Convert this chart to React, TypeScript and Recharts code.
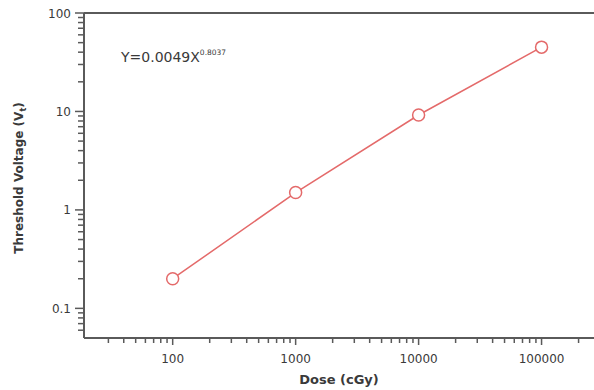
import { LineChart, Line, XAxis, YAxis, ReferenceLine } from 'recharts';

// dose (cGy) vs threshold voltage (V)
const doses = [100, 1000, 10000, 100000];
const voltages = [0.2, 1.5, 9.2, 45];

const xMajorTicks = [100, 1000, 10000, 100000];
const xMinorTicks = [
  30, 40, 50, 60, 70, 80, 90,
  200, 300, 400, 500, 600, 700, 800, 900,
  2000, 3000, 4000, 5000, 6000, 7000, 8000, 9000,
  20000, 30000, 40000, 50000, 60000, 70000, 80000, 90000,
  200000,
];
const yMajorTicks = [0.1, 1, 10, 100];
const yMinorTicks = [
  0.06, 0.07, 0.08, 0.09,
  0.2, 0.3, 0.4, 0.5, 0.6, 0.7, 0.8, 0.9,
  2, 3, 4, 5, 6, 7, 8, 9,
  20, 30, 40, 50, 60, 70, 80, 90,
];

const equation = 'Y=0.0049X';
const exponent = '0.8037';

const data = doses.map((dose, i) => ({ dose, v: voltages[i] }));

const AXIS = '#5a5a5a';
const TEXT = '#3a3a3a';
const RED = '#e46a6a';
const FONT = '"DejaVu Sans", Arial, sans-serif';

const XTick = (props: any) => {
  const { x, y, payload } = props;
  const major = xMajorTicks.includes(payload.value);
  return (
    <g>
      <line x1={x} x2={x} y1={y} y2={y + (major ? 7 : 5)} stroke={AXIS} strokeWidth={1.5} />
      {major && (
        <text x={x} y={y + 25} textAnchor="middle" fontSize={12} fill={TEXT} fontFamily={FONT}>
          {payload.value}
        </text>
      )}
    </g>
  );
};

const YTick = (props: any) => {
  const { x, y, payload } = props;
  const major = yMajorTicks.includes(payload.value);
  return (
    <g>
      <line x1={x - (major ? 9 : 6)} x2={x} y1={y} y2={y} stroke={AXIS} strokeWidth={1.5} />
      {major && (
        <text x={x - 13} y={y + 4.5} textAnchor="end" fontSize={12} fill={TEXT} fontFamily={FONT}>
          {payload.value}
        </text>
      )}
    </g>
  );
};

export default function App() {
  return (
    <div style={{ position: 'absolute', left: 0, top: 0, width: 594, height: 390, background: '#fff', fontFamily: FONT }}>
      <LineChart width={594} height={390} data={data} margin={{ top: 13, right: 0, bottom: 0, left: 0 }}>
        <XAxis
          dataKey="dose"
          type="number"
          scale="log"
          domain={[19, 267000]}
          allowDataOverflow
          ticks={[...xMajorTicks, ...xMinorTicks]}
          interval={0}
          tickSize={0}
          tickMargin={0}
          tickLine={false}
          tick={<XTick />}
          height={52}
          axisLine={{ stroke: AXIS, strokeWidth: 2 }}
        />
        <YAxis
          type="number"
          scale="log"
          domain={[0.05, 100]}
          allowDataOverflow
          ticks={[...yMajorTicks, ...yMinorTicks]}
          interval={0}
          minTickGap={0}
          tickSize={0}
          tickMargin={0}
          tickLine={false}
          tick={<YTick />}
          width={84}
          axisLine={{ stroke: AXIS, strokeWidth: 2 }}
        />
        <ReferenceLine y={100} stroke={AXIS} strokeWidth={2} />
        <Line
          dataKey="v"
          stroke={RED}
          strokeWidth={1.5}
          dot={{ r: 6, fill: '#fff', stroke: RED, strokeWidth: 1.5 }}
          isAnimationActive={false}
        />
      </LineChart>
      <div style={{ position: 'absolute', left: 121, top: 48, fontSize: 14, lineHeight: '18px', color: TEXT }}>
        {equation}
        <sup style={{ fontSize: 7.5, verticalAlign: 'top', position: 'relative', top: -4 }}>{exponent}</sup>
      </div>
      <div
        style={{
          position: 'absolute',
          left: 339,
          top: 372,
          transform: 'translateX(-50%)',
          fontSize: 13,
          fontWeight: 'bold',
          color: TEXT,
          whiteSpace: 'nowrap',
        }}
      >
        Dose (cGy)
      </div>
      <div
        style={{
          position: 'absolute',
          left: 20,
          top: 178,
          transform: 'translate(-50%, -50%) rotate(-90deg)',
          fontSize: 12,
          fontWeight: 'bold',
          color: TEXT,
          whiteSpace: 'nowrap',
        }}
      >
        Threshold Voltage (V<sub style={{ fontSize: 8 }}>t</sub>)
      </div>
    </div>
  );
}
